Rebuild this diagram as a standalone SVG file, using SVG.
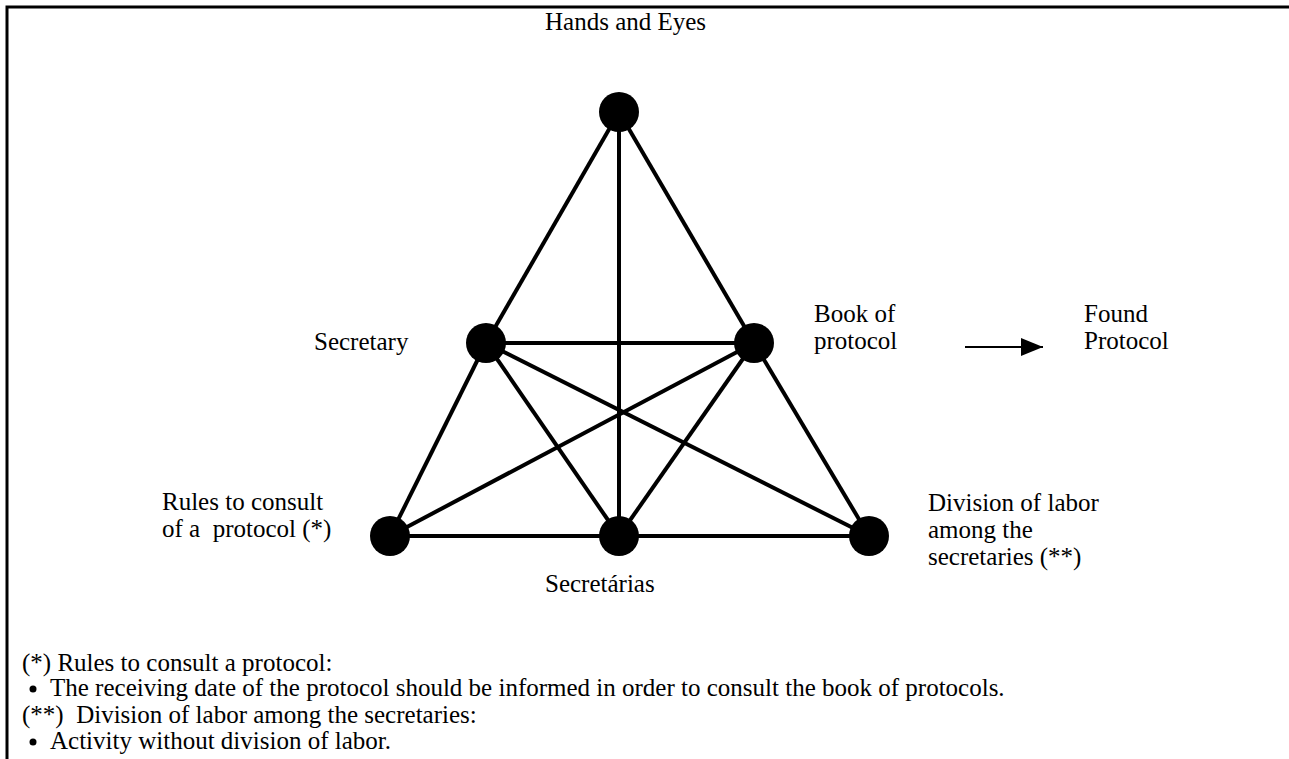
<svg xmlns="http://www.w3.org/2000/svg" width="1289" height="759" viewBox="0 0 1289 759">
<defs>
<style>
text{font-family:"Liberation Serif","Times New Roman",serif;font-size:25px;fill:#000}
.e{stroke:#000;stroke-width:4;fill:none}
.n{fill:#000}
</style>
<marker id="ah" markerWidth="22" markerHeight="18" refX="22" refY="9" orient="auto" markerUnits="userSpaceOnUse">
<path d="M0,0 L22,9 L0,18 Z" fill="#000"/>
</marker>
</defs>
<rect width="1289" height="759" fill="#fff"/>
<path d="M7,759 V7 H1289" fill="none" stroke="#000" stroke-width="3"/>
<g id="connectors">
<line class="e" x1="619" y1="112" x2="486" y2="343"/>
<line class="e" x1="619" y1="112" x2="754" y2="343"/>
<line class="e" x1="619" y1="112" x2="619" y2="536"/>
<line class="e" x1="486" y1="343" x2="754" y2="343"/>
<line class="e" x1="486" y1="343" x2="390" y2="536"/>
<line class="e" x1="486" y1="343" x2="619" y2="536"/>
<line class="e" x1="486" y1="343" x2="869" y2="536"/>
<line class="e" x1="754" y1="343" x2="390" y2="536"/>
<line class="e" x1="754" y1="343" x2="619" y2="536"/>
<line class="e" x1="754" y1="343" x2="869" y2="536"/>
<line class="e" x1="390" y1="536" x2="869" y2="536"/>
<line x1="965" y1="347" x2="1043" y2="347" stroke="#000" stroke-width="2" marker-end="url(#ah)"/>
</g>
<g id="hands-and-eyes"><circle class="n" cx="619" cy="112" r="20"/><text x="545" y="30">Hands and Eyes</text></g>
<g id="secretary"><circle class="n" cx="486" cy="343" r="20"/><text x="314" y="350">Secretary</text></g>
<g id="book-of-protocol"><circle class="n" cx="754" cy="343" r="20"/><text x="814" y="322">Book of</text><text x="814" y="349">protocol</text></g>
<g id="found-protocol"><text x="1084" y="322">Found</text><text x="1084" y="349">Protocol</text></g>
<g id="rules"><circle class="n" cx="390" cy="536" r="20"/><text x="162" y="510">Rules to consult</text><text x="162" y="537" xml:space="preserve">of a  protocol (*)</text></g>
<g id="secretarias"><circle class="n" cx="619" cy="536" r="20"/><text x="545" y="592">Secretárias</text></g>
<g id="division"><circle class="n" cx="869" cy="536" r="20"/><text x="928" y="511">Division of labor</text><text x="928" y="538">among the</text><text x="928" y="565">secretaries (**)</text></g>
<g id="notes">
<text x="22" y="671">(*) Rules to consult a protocol:</text>
<circle class="n" cx="33" cy="689" r="3.5"/>
<text x="50" y="696">The receiving date of the protocol should be informed in order to consult the book of protocols.</text>
<text x="22" y="723" xml:space="preserve">(**)  Division of labor among the secretaries:</text>
<circle class="n" cx="33" cy="742" r="3.5"/>
<text x="50" y="749">Activity without division of labor.</text>
</g>
</svg>
